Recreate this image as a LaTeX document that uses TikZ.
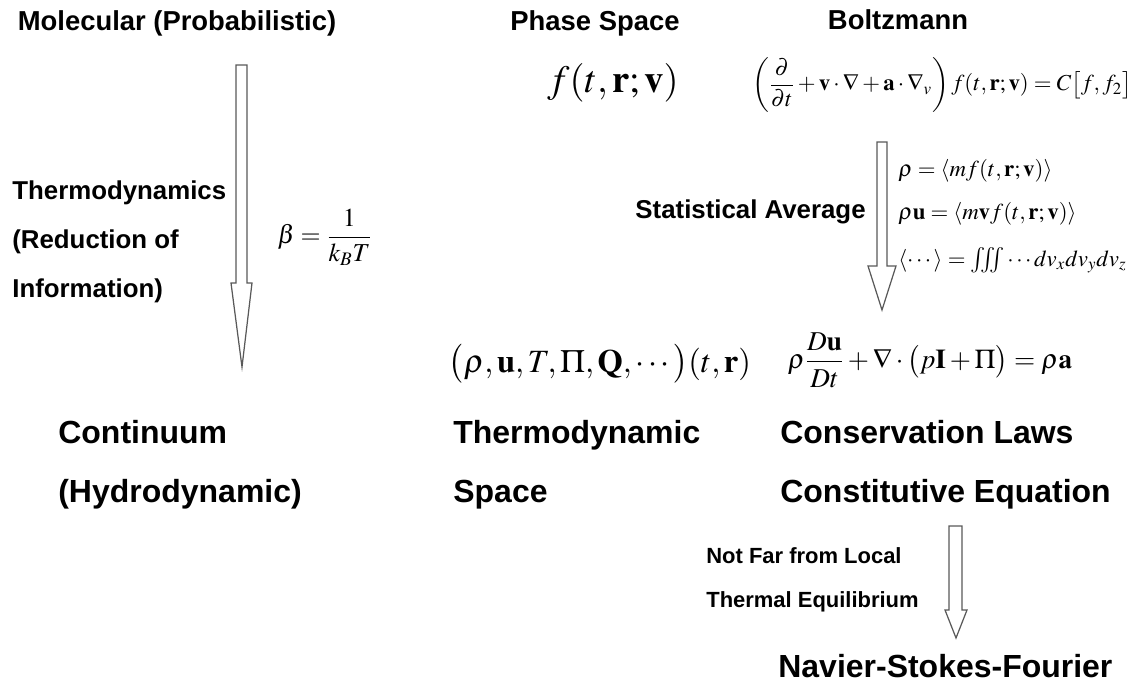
\documentclass[tikz,border=0pt]{standalone}
\usepackage{amsmath}
\usepackage{mathptmx}
\usepackage{fontspec}
\newfontfamily\headfont{Liberation Sans}
\usetikzlibrary{positioning}

\begin{document}
\begin{tikzpicture}[x=0.02cm, y=-0.02cm,
  title/.style={font=\headfont\bfseries\fontsize{15.6}{19}\selectfont, inner sep=0pt, anchor=base},
  label/.style={font=\headfont\bfseries\fontsize{18.2}{22}\selectfont, inner sep=0pt, anchor=base west},
  side/.style={font=\headfont\bfseries\fontsize{14.7}{18}\selectfont, inner sep=0pt, anchor=base west},
  note/.style={font=\headfont\bfseries\fontsize{12.5}{15}\selectfont, inner sep=0pt, anchor=base west},
  eq/.style={font=\fontsize{13}{16}\selectfont, inner sep=0pt},
  bigeq/.style={font=\fontsize{18.5}{22}\selectfont, inner sep=0pt},
  hollow/.style={draw=black!65, line width=0.7pt, fill=white, line join=miter}]
\useasboundingbox (0,0) rectangle (1143,689);

% column titles
\node[title] (molecular) at (177, 31) {Molecular (Probabilistic)};
\node[title] (phase) at (595, 31) {Phase Space};
\node[title] (boltz) at (898, 30) {Boltzmann};

% phase space and Boltzmann equation
\node[bigeq, font=\fontsize{22}{26}\selectfont] (fdist) at (613, 83) {$f(t,\mathbf{r};\mathbf{v})$};
\node[eq] (boltzeq) at (942, 85) {$\left(\dfrac{\partial}{\partial t}+\mathbf{v}\cdot\nabla+\mathbf{a}\cdot\nabla_{v}\right)f(t,\mathbf{r};\mathbf{v})=C\bigl[f,f_{2}\bigr]$};

% left arrow
\draw[hollow] (236,65) -- (247,65) -- (247,283) -- (252,283) -- (242,367)
  -- (231,283) -- (236,283) -- cycle;
\node[side] (thermo1) at (12, 200) {Thermodynamics};
\node[side] (thermo2) at (12, 249) {(Reduction of};
\node[side] (thermo3) at (12, 297) {Information)};
\node[eq, font=\fontsize{14.7}{18}\selectfont] (beta) at (325, 237) {$\beta=\dfrac{1}{k_{B}T}$};

% averaging arrow
\draw[hollow] (877,142) -- (887,142) -- (887,266) -- (896,266) -- (882,310)
  -- (868,266) -- (877,266) -- cycle;
\node[side, anchor=base east] (stat) at (866, 219) {Statistical Average};
\node[eq, anchor=west] (mom1) at (898, 171) {$\rho=\langle mf(t,\mathbf{r};\mathbf{v})\rangle$};
\node[eq, anchor=west] (mom2) at (898, 214) {$\rho\mathbf{u}=\langle m\mathbf{v}f(t,\mathbf{r};\mathbf{v})\rangle$};
\node[eq, anchor=west] (mom3) at (898, 260) {$\langle\cdots\rangle=\text{\fontsize{14.5}{15}\selectfont$\iiint$}\cdots dv_{x}dv_{y}dv_{z}$};

% continuum fields and momentum balance
\node[bigeq] (fields) at (600, 364) {$\bigl(\rho,\mathbf{u},T,\Pi,\mathbf{Q},\cdots\bigr)(t,\mathbf{r})$};
\node[eq, font=\fontsize{15.5}{18}\selectfont] (momeq) at (930, 360) {$\rho\dfrac{D\mathbf{u}}{Dt}+\nabla\cdot\bigl(p\mathbf{I}+\Pi\bigr)=\rho\mathbf{a}$};

% bottom row
\node[label] (cont1) at (58, 443) {Continuum};
\node[label] (cont2) at (58, 502) {(Hydrodynamic)};
\node[label] (tspace1) at (453, 443) {Thermodynamic};
\node[label] (tspace2) at (453, 502) {Space};
\node[label] (cons1) at (780, 443) {Conservation Laws};
\node[label] (cons2) at (780, 502) {Constitutive Equation};

% near-equilibrium arrow
\draw[hollow] (949,526) -- (962,526) -- (962,610) -- (967,610) -- (956,638)
  -- (945,610) -- (949,610) -- cycle;
\node[note] (near1) at (706, 563) {Not Far from Local};
\node[note] (near2) at (706, 607) {Thermal Equilibrium};
\node[label] (nsf) at (778, 677) {Navier-Stokes-Fourier};
\end{tikzpicture}
\end{document}
